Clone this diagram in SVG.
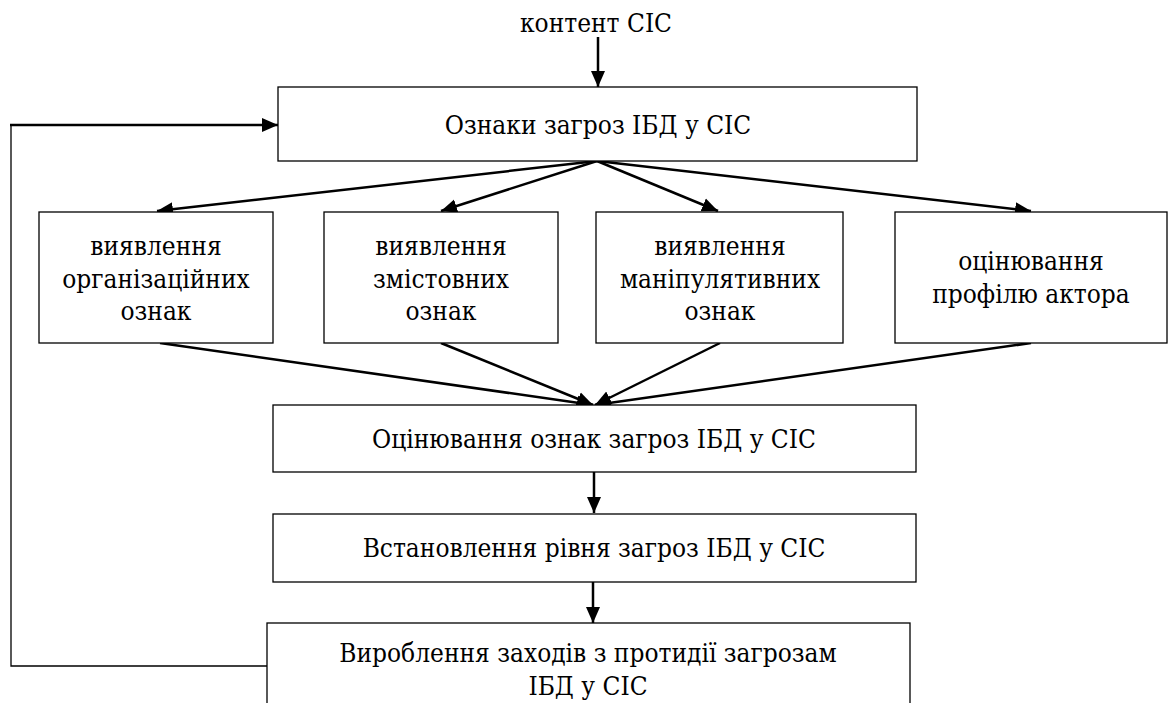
<svg xmlns="http://www.w3.org/2000/svg" width="1169" height="703" viewBox="0 0 1169 703">
<defs>
<marker id="ah" markerUnits="userSpaceOnUse" markerWidth="16" markerHeight="16" viewBox="0 0 16 16" refX="16" refY="8" orient="auto">
<path d="M0,1 L16,8 L0,15 Z" fill="#000"/>
</marker>
<style>
.box{fill:#fff;stroke:#000;stroke-width:1.3}
.t{font-family:"DejaVu Serif Condensed","DejaVu Serif",serif;font-stretch:condensed;font-size:26px;fill:#000;text-anchor:middle}
.c{fill:none;stroke:#000;stroke-width:2.5;marker-end:url(#ah)}
.p{fill:none;stroke:#000;stroke-width:1.3}
</style>
</defs>
<rect width="1169" height="703" fill="#fff"/>
<g id="connectors">
<line class="c" x1="598" y1="37" x2="598" y2="87"/>
<polyline class="p" points="267,666 11,666 11,125"/>
<line class="c" x1="10" y1="125" x2="278" y2="125"/>
<line class="c" x1="597" y1="161" x2="157" y2="211"/>
<line class="c" x1="597" y1="161" x2="441" y2="211"/>
<line class="c" x1="597" y1="161" x2="718" y2="211"/>
<line class="c" x1="597" y1="161" x2="1031" y2="211"/>
<line class="c" x1="160" y1="343" x2="593" y2="405"/>
<line class="c" x1="441" y1="343" x2="593" y2="405"/>
<line class="c" x1="720" y1="343" x2="595" y2="405"/>
<line class="c" x1="1031" y1="343" x2="595" y2="405"/>
<line class="c" x1="594" y1="472" x2="594" y2="513"/>
<line class="c" x1="593" y1="582" x2="593" y2="623"/>
</g>
<g id="input"><text class="t" x="596" y="32">контент СІС</text></g>
<g id="n-top"><rect class="box" x="278" y="87" width="639" height="74"/><text class="t" x="598" y="134">Ознаки загроз ІБД у СІС</text></g>
<g id="n-org"><rect class="box" x="39" y="212" width="234" height="131"/><text class="t" x="156" y="255">виявлення</text><text class="t" x="156" y="288">організаційних</text><text class="t" x="156" y="320">ознак</text></g>
<g id="n-zmist"><rect class="box" x="324" y="212" width="234" height="131"/><text class="t" x="441" y="255">виявлення</text><text class="t" x="441" y="288">змістовних</text><text class="t" x="441" y="320">ознак</text></g>
<g id="n-manip"><rect class="box" x="596" y="212" width="247" height="131"/><text class="t" x="720" y="255">виявлення</text><text class="t" x="720" y="288">маніпулятивних</text><text class="t" x="720" y="320">ознак</text></g>
<g id="n-actor"><rect class="box" x="895" y="212" width="272" height="131"/><text class="t" x="1031" y="270">оцінювання</text><text class="t" x="1031" y="303">профілю актора</text></g>
<g id="n-eval"><rect class="box" x="273" y="405" width="643" height="67"/><text class="t" x="594" y="448">Оцінювання ознак загроз ІБД у СІС</text></g>
<g id="n-level"><rect class="box" x="273" y="514" width="643" height="68"/><text class="t" x="594" y="557">Встановлення рівня загроз ІБД у СІС</text></g>
<g id="n-measures"><rect class="box" x="267" y="623" width="643" height="100"/><text class="t" x="588" y="662">Вироблення заходів з протидії загрозам</text><text class="t" x="588" y="695">ІБД у СІС</text></g>
</svg>
